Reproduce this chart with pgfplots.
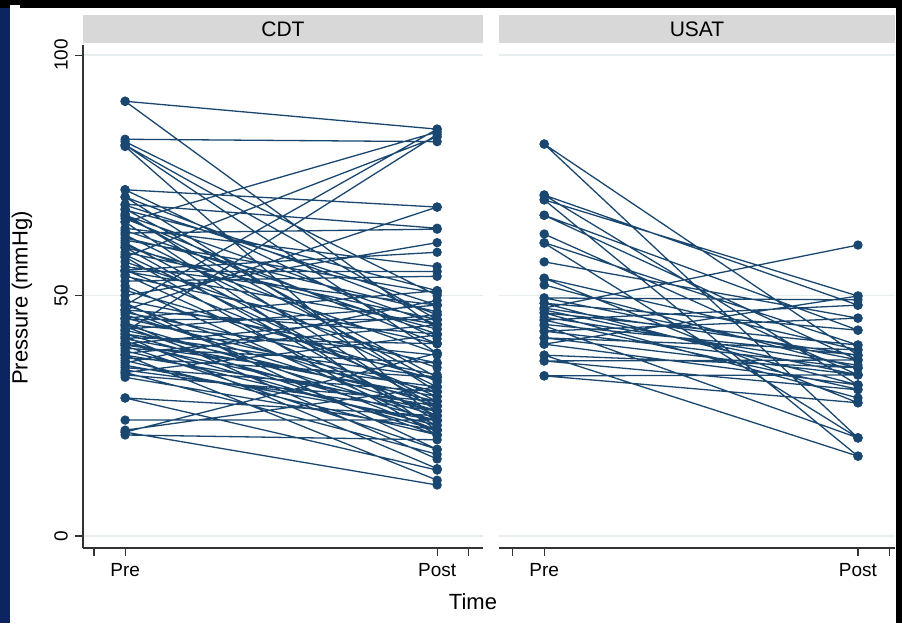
\documentclass[border=0pt]{standalone}
\usepackage{fontspec}
\setmainfont{Liberation Sans}
\usepackage{pgfplots}
\pgfplotsset{compat=1.18}
\definecolor{statanavy}{RGB}{26,71,111}
\definecolor{gridc}{RGB}{230,238,240}
\definecolor{stripc}{RGB}{216,216,216}
\definecolor{slidenavy}{RGB}{14,36,96}

\pgfplotsset{
  panel/.style={
    scale only axis, height=251.5pt, anchor=south west,
    xmin=0.865, xmax=2.147, ymin=-2.5, ymax=102.1,
    xtick={0.9,1,2,2.1}, xticklabels={,Pre,Post,},
    ytick={0,50,100},
    axis x line*=bottom, axis y line*=left,
    axis line style={-, black!80, line width=0.6pt},
    tick style={black!80, line width=0.6pt},
    tick align=outside, major tick length=4pt,
    ymajorgrids, major grid style={gridc, line width=0.7pt},
    tick label style={font=\fontsize{9.5}{11}\selectfont},
    /pgf/number format/assume math mode=true,
    yticklabel style={rotate=90, anchor=south},
    unbounded coords=jump, clip=false,
  },
  pp/.style={statanavy, line width=0.65pt, mark=*, mark size=2pt,
    mark options={solid, fill=statanavy, draw=statanavy}},
}

\begin{document}
\begin{tikzpicture}
% slide background around the graph
\fill[black] (0,0) rectangle (451pt,311.5pt);
\fill[slidenavy] (0,0) rectangle (5pt,307.5pt);
\fill[white] (5pt,0) rectangle (448pt,307.5pt);
\fill[white] (5pt,307.5pt) rectangle (10pt,309pt);
\useasboundingbox (0,0) rectangle (451pt,311.5pt);

% strips
\fill[stripc] (41.5pt,290pt) rectangle (241.5pt,304pt);
\fill[stripc] (249.5pt,290pt) rectangle (447.5pt,304pt);
\node[font=\fontsize{10.5}{12}\selectfont] at (141.5pt,297pt) {CDT};
\node[font=\fontsize{10.5}{12}\selectfont] at (348.5pt,297pt) {USAT};

% CDT
\begin{axis}[panel, at={(41.5pt,37.5pt)}, width=200pt]
\addplot[pp] coordinates {
(1,90.4) (2,84.6) (1,nan) (1,90.4) (2,43) (1,nan)
(1,82.5) (2,82.0) (1,nan) (1,82.0) (2,50) (1,nan)
(1,81.3) (2,45) (1,nan) (1,81.3) (2,38) (1,nan)
(1,81.0) (2,24) (1,nan) (1,72.0) (2,68.4) (1,nan)
(1,72.0) (2,41) (1,nan) (1,70.5) (2,46) (1,nan)
(1,70.5) (2,30) (1,nan) (1,69.0) (2,64) (1,nan)
(1,68.8) (2,48) (1,nan) (1,68.0) (2,33) (1,nan)
(1,67.8) (2,51) (1,nan) (1,67.0) (2,26) (1,nan)
(1,66.7) (2,44) (1,nan) (1,66.0) (2,40) (1,nan)
(1,65.3) (2,84) (1,nan) (1,65.3) (2,22) (1,nan)
(1,64.0) (2,56) (1,nan) (1,63.5) (2,42) (1,nan)
(1,62.6) (2,31) (1,nan) (1,62.0) (2,46.6) (1,nan)
(1,61.5) (2,50.5) (1,nan) (1,61.0) (2,27) (1,nan)
(1,60.5) (2,38) (1,nan) (1,60.0) (2,24) (1,nan)
(1,59.0) (2,45) (1,nan) (1,58.0) (2,83) (1,nan)
(1,58.0) (2,21) (1,nan) (1,57.0) (2,35) (1,nan)
(1,56.0) (2,48) (1,nan) (1,55.3) (2,59) (1,nan)
(1,55.3) (2,29) (1,nan) (1,55.0) (2,44) (1,nan)
(1,54.3) (2,25) (1,nan) (1,54.0) (2,40) (1,nan)
(1,53.0) (2,54) (1,nan) (1,52.0) (2,23) (1,nan)
(1,51.1) (2,32.4) (1,nan) (1,50.0) (2,61) (1,nan)
(1,49.0) (2,36) (1,nan) (1,48.5) (2,18) (1,nan)
(1,48.0) (2,84.6) (1,nan) (1,48.0) (2,27) (1,nan)
(1,47.0) (2,42) (1,nan) (1,47.0) (2,22) (1,nan)
(1,46.5) (2,33.5) (1,nan) (1,46.0) (2,26) (1,nan)
(1,45.3) (2,51) (1,nan) (1,45.3) (2,30) (1,nan)
(1,45.0) (2,45) (1,nan) (1,44.5) (2,16) (1,nan)
(1,44.0) (2,37.6) (1,nan) (1,43.9) (2,25) (1,nan)
(1,43.5) (2,21) (1,nan) (1,43.0) (2,48) (1,nan)
(1,42.8) (2,28) (1,nan) (1,42.5) (2,83.5) (1,nan)
(1,42.0) (2,33) (1,nan) (1,42.0) (2,24) (1,nan)
(1,41.5) (2,14) (1,nan) (1,41.2) (2,40) (1,nan)
(1,41.0) (2,29) (1,nan) (1,40.5) (2,22) (1,nan)
(1,40.0) (2,46) (1,nan) (1,40.0) (2,26) (1,nan)
(1,39.7) (2,31) (1,nan) (1,39.5) (2,18) (1,nan)
(1,39.0) (2,36) (1,nan) (1,38.5) (2,23) (1,nan)
(1,38.0) (2,43.9) (1,nan) (1,37.6) (2,27) (1,nan)
(1,37.6) (2,11.6) (1,nan) (1,37.0) (2,33) (1,nan)
(1,36.5) (2,21) (1,nan) (1,36.0) (2,49) (1,nan)
(1,35.5) (2,24) (1,nan) (1,35.0) (2,30) (1,nan)
(1,34.5) (2,26) (1,nan) (1,34.0) (2,41.8) (1,nan)
(1,34.0) (2,17) (1,nan) (1,33.5) (2,28) (1,nan)
(1,33.0) (2,22) (1,nan) (1,28.7) (2,25) (1,nan)
(1,28.7) (2,13.7) (1,nan) (1,24.1) (2,24.1) (1,nan)
(1,22.0) (2,31) (1,nan) (1,21.6) (2,10.6) (1,nan)
(1,21.6) (2,38) (1,nan) (1,21.0) (2,20) (1,nan)
(1,55.0) (2,55) (1,nan) (1,63.0) (2,63.8) (1,nan)
(1,47.0) (2,68.4) (1,nan) (1,66.5) (2,32) (1,nan)
(1,60.0) (2,43) (1,nan) (1,58.5) (2,28) (1,nan)
};
\end{axis}

% USAT
\begin{axis}[panel, at={(249.5pt,37.5pt)}, width=198pt,
  xmin=0.856, xmax=2.118,
  y axis line style={draw=none}, ytick style={draw=none}, yticklabels={}]
\addplot[pp] coordinates {
(1,81.5) (2,37.6) (1,nan) (1,81.5) (2,20.4) (1,nan)
(1,70.9) (2,48) (1,nan) (1,70.9) (2,31.4) (1,nan)
(1,69.9) (2,49.9) (1,nan) (1,69.9) (2,16.6) (1,nan)
(1,66.7) (2,42.8) (1,nan) (1,66.7) (2,36.6) (1,nan)
(1,62.8) (2,33.5) (1,nan) (1,61.0) (2,39.7) (1,nan)
(1,60.9) (2,20.4) (1,nan) (1,57.0) (2,45.3) (1,nan)
(1,53.6) (2,38.7) (1,nan) (1,53.6) (2,27.7) (1,nan)
(1,52.2) (2,34.9) (1,nan) (1,49.5) (2,49.1) (1,nan)
(1,49.5) (2,36.6) (1,nan) (1,48.4) (2,31.4) (1,nan)
(1,48.4) (2,42.8) (1,nan) (1,47.4) (2,37.6) (1,nan)
(1,47.4) (2,60.5) (1,nan) (1,47.0) (2,33.5) (1,nan)
(1,46.4) (2,39.7) (1,nan) (1,46.4) (2,28.7) (1,nan)
(1,45.5) (2,35.5) (1,nan) (1,44.9) (2,48) (1,nan)
(1,44.9) (2,30.5) (1,nan) (1,44.0) (2,37.6) (1,nan)
(1,43.7) (2,20.4) (1,nan) (1,42.6) (2,34.9) (1,nan)
(1,42.6) (2,45.3) (1,nan) (1,41.2) (2,33.5) (1,nan)
(1,41.2) (2,38.7) (1,nan) (1,39.9) (2,31.4) (1,nan)
(1,39.9) (2,49.9) (1,nan) (1,37.6) (2,35.0) (1,nan)
(1,37.6) (2,16.6) (1,nan) (1,36.4) (2,30.4) (1,nan)
(1,36.4) (2,36.6) (1,nan) (1,33.3) (2,33.5) (1,nan)
(1,33.3) (2,27.7) (1,nan)
};
\end{axis}

\node[rotate=90, font=\fontsize{11}{13}\selectfont] at (11pt,162.5pt) {Pressure (mmHg)};
\node[font=\fontsize{11}{13}\selectfont] at (236.5pt,10.5pt) {Time};
\end{tikzpicture}
\end{document}
